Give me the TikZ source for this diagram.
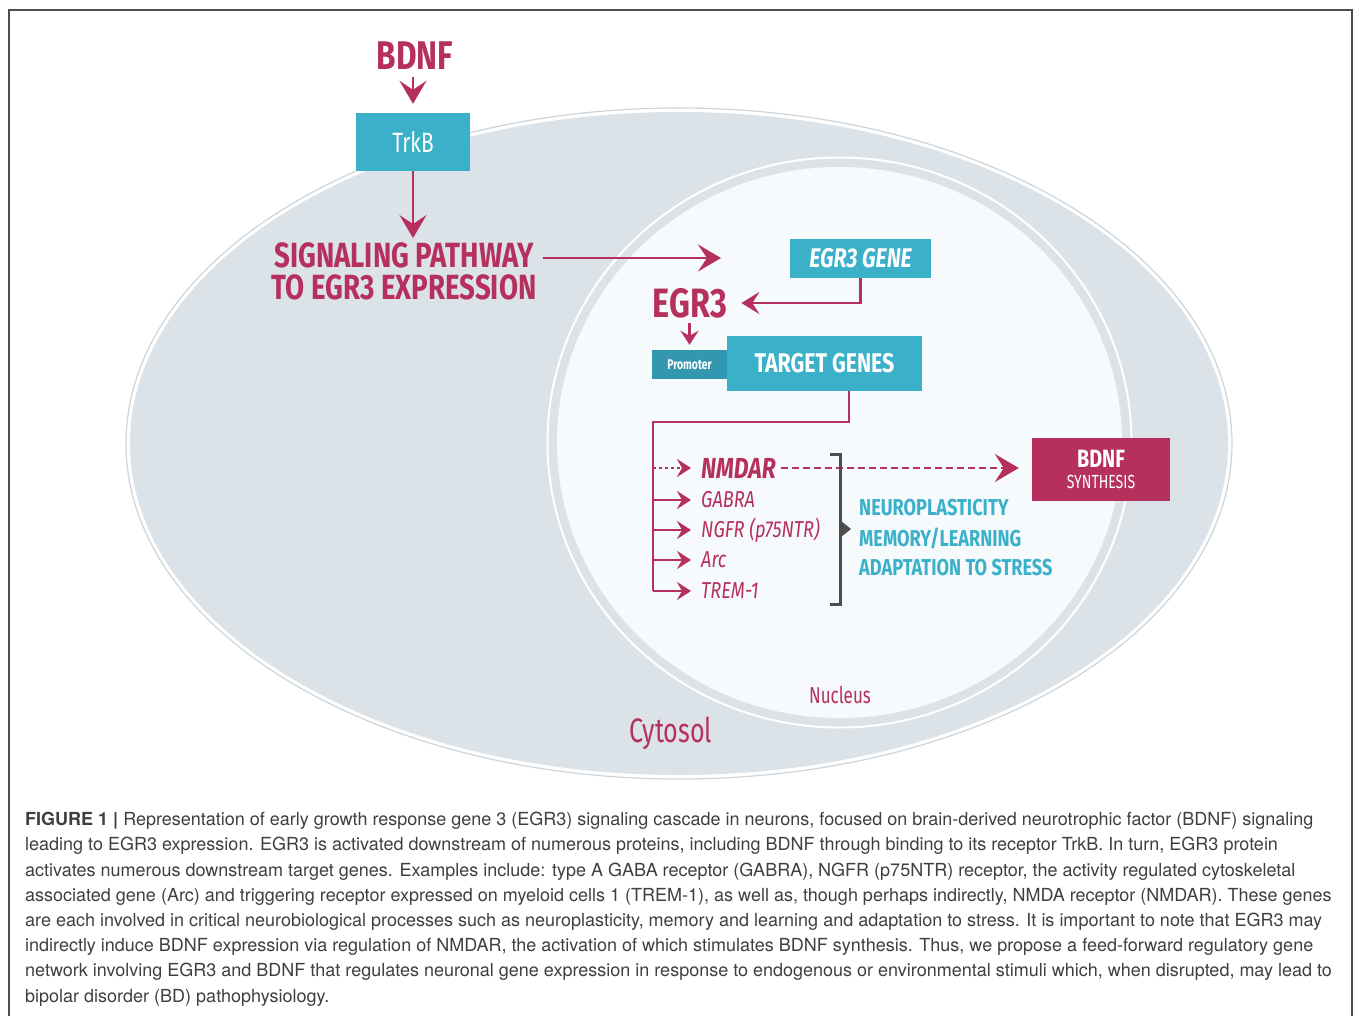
\documentclass[tikz,border=0pt]{standalone}
\usepackage{fontspec}
\setmainfont{TeX Gyre Heros}
\newfontfamily\cond[FakeStretch=0.79]{Fira Sans}
\newfontfamily\condr[FakeStretch=0.74]{Fira Sans}
\newcommand\cf[1]{\cond\fontsize{#1}{#1}\selectfont}
\newcommand\crf[1]{\condr\fontsize{#1}{#1}\selectfont}
\usetikzlibrary{arrows.meta}
\definecolor{crim}{HTML}{B5305C}
\definecolor{teal}{HTML}{3AB0C9}
\definecolor{dteal}{HTML}{3497B0}
\definecolor{cyto}{HTML}{DCE3E8}
\definecolor{nucl}{HTML}{F6FAFD}
\definecolor{brk}{HTML}{4D4D4D}
\definecolor{captxt}{HTML}{3F3F3F}
\tikzset{
  title/.style={text=crim, inner sep=0pt},
  tbox/.style={fill=teal, text=white, inner sep=0pt},
  conn/.style={draw=crim, line width=2.6pt},
  bigarr/.style={conn, -{Stealth[length=23pt, width=27pt, inset=9pt]}},
  midarr/.style={conn, -{Stealth[length=18pt, width=22pt, inset=7pt]}},
  smallarr/.style={conn, -{Stealth[length=14pt, width=18pt, inset=5pt]}},
  gene/.style={text=crim, inner sep=0pt, anchor=west},
  proc/.style={text=teal, inner sep=0pt, anchor=west, font={\cf{23}\bfseries}},
}
\begin{document}
\begin{tikzpicture}[x=1pt,y=-1pt]
\useasboundingbox (0,0) rectangle (1354,1016);
\clip (0,0) rectangle (1354,1016);
\fill[white] (0,0) rectangle (1354,1016);
\draw[brk, line width=1.5pt] (9,1030) -- (9,10) -- (1352,10) -- (1352,1030);
% cytosol
\fill[cyto] (679,443.5) ellipse [x radius=549, y radius=331.5];
\draw[cyto!85!gray, line width=1.2pt] (679,443.5) ellipse [x radius=553, y radius=335.5];
\draw[white, line width=1.6pt] (679,443.5) ellipse [x radius=550.5, y radius=333];
% nucleus
\draw[white, line width=2pt] (839.5,442.5) ellipse [x radius=292, y radius=285];
\fill[nucl] (839.5,442.5) ellipse [x radius=282.5, y radius=275.5];

% top part
\node[title, font={\cf{40}\bfseries}] (bdnf) at (415,56) {BDNF};
\node[tbox, minimum width=114pt, minimum height=58pt, font=\crf{28}] (trkb) at (413,142) {TrkB};
\node[title, font={\cf{35}\bfseries}, align=center] (sig) at (404,271) {SIGNALING PATHWAY\\[-3pt]TO EGR3 EXPRESSION};
\draw[bigarr, shorten <=7pt, shorten >=9pt] (bdnf.south -| trkb.north) -- (trkb.north);
\draw[bigarr, shorten >=4pt] (trkb.south) -- (trkb.south |- sig.north);
\coordinate (sigend) at (721,258);
\draw[bigarr] (sig.east |- sigend) ++(6pt,0) -- (sigend);

% nucleus content
\node[tbox, minimum width=141pt, minimum height=39pt, font={\cf{27}\bfseries\itshape}] (egrgene) at (860.5,258.5) {EGR3 GENE};
\node[title, font={\cf{41}\bfseries}] (egr3) at (690,303) {EGR3};
\draw[midarr, shorten >=14pt] (egrgene.south) |- (egr3.east);
\node[fill=dteal, text=white, minimum width=75pt, minimum height=29pt, inner sep=0pt, font={\crf{14}\bfseries}] (prom) at (689.5,364.5) {Promoter};
\node[tbox, minimum width=195pt, minimum height=55pt, font={\cf{27}\bfseries}] (target) at (824.5,363.5) {TARGET GENES};
\draw[smallarr, line width=2.2pt, shorten <=5pt, shorten >=5pt] (egr3.south -| prom.north) -- (prom.north);

% genes
\node[gene, font={\cf{29}\bfseries\itshape}] (nmdar) at (701,468) {NMDAR};
\node[gene, font={\cf{23}\itshape}] (gabra) at (701,500) {GABRA};
\node[gene, font={\cf{23}\itshape}] (ngfr) at (701,530) {NGFR (p75NTR)};
\node[gene, font={\cf{23}\itshape}] (arc) at (701,560) {Arc};
\node[gene, font={\cf{23}\itshape}] (trem) at (701,591) {TREM-1};
\coordinate (bus) at (653,422);
\coordinate (busend) at (653,591);
\draw[conn, line width=2.2pt] (target.south -| 849,0) |- (bus) -- (busend);
\draw[crim, line width=2.2pt, dash pattern=on 3pt off 3pt, -{Stealth[length=14pt, width=18pt, inset=5pt]}, shorten >=10pt] (bus |- nmdar.west) -- (nmdar.west);
\foreach \g in {gabra,ngfr,arc,trem}
  \draw[smallarr, line width=2.2pt, shorten >=10pt] (bus |- \g.west) -- (\g.west);

% bdnf synthesis
\node[fill=crim, text=white, minimum width=138pt, minimum height=63pt, inner sep=0pt, align=center, font=\fontsize{18}{21}\selectfont] (synth) at (1101,469.5)
  {{\cf{25}\bfseries BDNF}\\{\crf{19}SYNTHESIS}};
\draw[crim, line width=2.4pt, dash pattern=on 7pt off 4pt, -{Stealth[length=24pt, width=28pt, inset=9pt]}, shorten <=5pt, shorten >=13pt] (nmdar.east) -- (synth.west |- nmdar.east);

% bracket
\coordinate (bt) at (840,454);
\coordinate (bb) at (840,604);
\draw[brk, line width=3pt] (830,454) -- (bt) -- (bb) -- (830,604);
\fill[brk] (841,521) -- (851,529) -- (841,537) -- cycle;

\node[proc] (neuro) at (859,508) {NEUROPLASTICITY};
\node[proc] (mem) at (859,538) {MEMORY/LEARNING};
\node[proc] (adapt) at (859,568) {ADAPTATION TO STRESS};

\node[text=crim, font=\crf{23}, inner sep=0pt] (nucleus) at (840,695) {Nucleus};
\node[text=crim, font=\crf{34}, inner sep=0pt] (cytosol) at (671,733) {Cytosol};

% caption
\node[anchor=north west, inner sep=0pt, align=left, text=captxt, font=\fontsize{18}{25.2}\selectfont] (cap) at (25,812) {%
\textbf{FIGURE 1 |} Representation of early growth response gene 3 (EGR3) signaling cascade in neurons, focused on brain-derived neurotrophic factor (BDNF) signaling\\
leading to EGR3 expression. EGR3 is activated downstream of numerous proteins, including BDNF through binding to its receptor TrkB. In turn, EGR3 protein\\
activates numerous downstream target genes. Examples include: type A GABA receptor (GABRA), NGFR (p75NTR) receptor, the activity regulated cytoskeletal\\
associated gene (Arc) and triggering receptor expressed on myeloid cells 1 (TREM-1), as well as, though perhaps indirectly, NMDA receptor (NMDAR). These genes\\
are each involved in critical neurobiological processes such as neuroplasticity, memory and learning and adaptation to stress. It is important to note that EGR3 may\\
indirectly induce BDNF expression via regulation of NMDAR, the activation of which stimulates BDNF synthesis. Thus, we propose a feed-forward regulatory gene\\
network involving EGR3 and BDNF that regulates neuronal gene expression in response to endogenous or environmental stimuli which, when disrupted, may lead to\\
bipolar disorder (BD) pathophysiology.};
\end{tikzpicture}
\end{document}
